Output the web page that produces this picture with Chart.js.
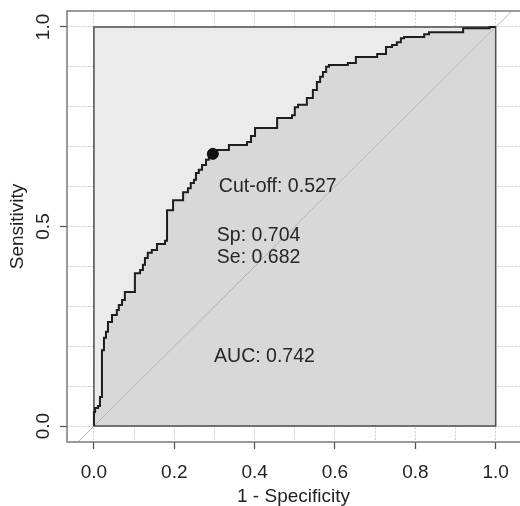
<!DOCTYPE html>
<html>
<head>
<meta charset="utf-8">
<script src="https://cdn.jsdelivr.net/npm/chart.js@4.4.1/dist/chart.umd.min.js"></script>
<style>
    html, body { margin: 0; padding: 0; background: #fff; overflow: hidden; }
    #rocChart { display: block; }
</style>
</head>
<body>
<canvas id="rocChart" width="520" height="506"></canvas>
<script>
// data
const rocFpr = [0, 0, 0.003, 0.003, 0.010, 0.010, 0.015, 0.015, 0.020, 0.020, 0.025, 0.025, 0.030, 0.030, 0.035, 0.035,
    0.045, 0.045, 0.057, 0.057, 0.062, 0.062, 0.070, 0.070, 0.077, 0.077, 0.102, 0.102, 0.115, 0.115, 0.122, 0.122,
    0.127, 0.127, 0.134, 0.134, 0.144, 0.144, 0.157, 0.157, 0.177, 0.177, 0.182, 0.182, 0.197, 0.197, 0.222, 0.222,
    0.234, 0.234, 0.241, 0.241, 0.249, 0.249, 0.254, 0.254, 0.261, 0.261, 0.269, 0.269, 0.279, 0.279, 0.286, 0.286,
    0.291, 0.291, 0.306, 0.306, 0.336, 0.336, 0.381, 0.381, 0.391, 0.391, 0.401, 0.401, 0.456, 0.456, 0.493, 0.493,
    0.500, 0.500, 0.508, 0.508, 0.530, 0.530, 0.545, 0.545, 0.555, 0.555, 0.563, 0.563, 0.570, 0.570, 0.578, 0.578,
    0.585, 0.585, 0.632, 0.632, 0.652, 0.652, 0.705, 0.705, 0.727, 0.727, 0.742, 0.742, 0.754, 0.754, 0.764, 0.764,
    0.772, 0.772, 0.822, 0.822, 0.834, 0.834, 0.919, 0.919, 0.985, 0.985, 1.000]
const rocTpr = [0, 0.035, 0.035, 0.045, 0.045, 0.050, 0.050, 0.073, 0.073, 0.190, 0.190, 0.221, 0.221, 0.236, 0.236, 0.261,
    0.261, 0.278, 0.278, 0.291, 0.291, 0.303, 0.303, 0.316, 0.316, 0.336, 0.336, 0.383, 0.383, 0.391, 0.391, 0.404,
    0.404, 0.421, 0.421, 0.434, 0.434, 0.441, 0.441, 0.456, 0.456, 0.464, 0.464, 0.541, 0.541, 0.566, 0.566, 0.586,
    0.586, 0.596, 0.596, 0.609, 0.609, 0.617, 0.617, 0.634, 0.634, 0.642, 0.642, 0.654, 0.654, 0.667, 0.667, 0.674,
    0.674, 0.682, 0.682, 0.692, 0.692, 0.704, 0.704, 0.712, 0.712, 0.727, 0.727, 0.747, 0.747, 0.772, 0.772, 0.779,
    0.779, 0.799, 0.799, 0.805, 0.805, 0.822, 0.822, 0.842, 0.842, 0.862, 0.862, 0.875, 0.875, 0.887, 0.887, 0.900,
    0.900, 0.905, 0.905, 0.910, 0.910, 0.925, 0.925, 0.932, 0.932, 0.950, 0.950, 0.955, 0.955, 0.962, 0.962, 0.972,
    0.972, 0.975, 0.975, 0.982, 0.982, 0.987, 0.987, 0.997, 0.997, 1.000, 1.000]

// best threshold point
const cutFpr = [0.296]
const cutTpr = [0.682]

// unit square (0..1 x 0..1) the curve lives in
const squareX = [0, 0, 1, 1, 0]
const squareY = [0, 1, 1, 0, 0]

// axes (right end of x is where the picture is cut off)
const xLimits = [-0.067, 1.0605]
const yLimits = [-0.04, 1.04]
const gridVals = [0, 0.1, 0.2, 0.3, 0.4, 0.5, 0.6, 0.7, 0.8, 0.9, 1.0]
const xTickVals = [0, 0.2, 0.4, 0.6, 0.8, 1.0]
const xTickLabels = ['0.0', '0.2', '0.4', '0.6', '0.8', '1.0']
const yTickVals = [0, 0.5, 1.0]
const yTickLabels = ['0.0', '0.5', '1.0']

// printed stats
const statTexts = ['Cut-off: 0.527', 'Sp: 0.704', 'Se: 0.682', 'AUC: 0.742']
const statX = [0.311, 0.306, 0.306, 0.299]
const statY = [0.587, 0.464, 0.409, 0.160]

const FONT = '"Liberation Sans", Arial, Helvetica, sans-serif'

const toPoints = (xs, ys) => xs.map((x, i) => ({ x: x, y: ys[i] }))
const labelFor = (vals, labels, v) => {
    const i = vals.findIndex(t => Math.abs(t - v) < 1e-9)
    return i < 0 ? '' : labels[i]
}

// frame round the plot region (R box); its right side lies past the picture edge
const boxPlugin = {
    id: 'boxPlugin',
    afterDraw(chart) {
        const { ctx, chartArea } = chart
        ctx.save()
        ctx.strokeStyle = '#7a7a7a'
        ctx.lineWidth = 1.5
        ctx.beginPath()
        ctx.moveTo(chartArea.right + 5, chartArea.top)
        ctx.lineTo(chartArea.left, chartArea.top)
        ctx.lineTo(chartArea.left, chartArea.bottom)
        ctx.lineTo(chartArea.right + 5, chartArea.bottom)
        ctx.stroke()
        ctx.restore()
    }
}

// Cut-off / Sp / Se / AUC text
const statsPlugin = {
    id: 'statsPlugin',
    afterDatasetsDraw(chart) {
        const { ctx, scales } = chart
        ctx.save()
        ctx.font = '19.5px ' + FONT
        ctx.fillStyle = '#262626'
        ctx.textAlign = 'left'
        ctx.textBaseline = 'alphabetic'
        statTexts.forEach((t, i) => {
            ctx.fillText(t, scales.x.getPixelForValue(statX[i]), scales.y.getPixelForValue(statY[i]))
        })
        ctx.restore()
    }
}

// setup
const data = {
    datasets: [
        {
            // light fill of the unit square (top edge filled down to 0)
            label: 'square fill',
            data: toPoints(squareX.slice(1, 3), squareY.slice(1, 3)),
            fill: 'origin',
            backgroundColor: '#ebebeb',
            borderWidth: 0,
            pointRadius: 0,
            order: 7
        },
        {
            label: 'square',
            data: toPoints(squareX, squareY),
            fill: false,
            borderColor: '#4d4d4d',
            borderWidth: 1.5,
            pointRadius: 0,
            order: 5
        },
        {
            label: 'diagonal',
            data: [{ x: yLimits[0], y: yLimits[0] }, { x: yLimits[1], y: yLimits[1] }],
            fill: false,
            borderColor: '#b5b5b5',
            borderWidth: 1,
            pointRadius: 0,
            order: 6
        },
        {
            label: 'ROC',
            data: toPoints(rocFpr, rocTpr),
            fill: 'origin',
            backgroundColor: '#d8d8d8',
            borderColor: '#1e1e1e',
            borderWidth: 2,
            pointRadius: 0,
            order: 2
        },
        {
            label: 'cut-off',
            data: toPoints(cutFpr, cutTpr),
            showLine: false,
            pointRadius: 5.5,
            pointBackgroundColor: '#111',
            pointBorderColor: '#111',
            order: 1
        }
    ]
}

// config
const config = {
    type: 'line',
    data: data,
    options: {
        responsive: false,
        animation: false,
        layout: { autoPadding: false, padding: { top: 11, right: 0, left: 0, bottom: 0 } },
        plugins: {
            legend: { display: false },
            tooltip: { enabled: false },
            filler: { drawTime: 'beforeDatasetsDraw' }
        },
        scales: {
            x: {
                type: 'linear',
                min: xLimits[0],
                max: xLimits[1],
                afterBuildTicks: s => { s.ticks = gridVals.map(v => ({ value: v })) },
                afterFit: s => { s.height = 64; s.paddingLeft = 0; s.paddingRight = 0 },
                ticks: {
                    autoSkip: false,
                    maxRotation: 0,
                    padding: 12,
                    color: '#222',
                    font: { size: 19, family: FONT },
                    callback: v => labelFor(xTickVals, xTickLabels, v)
                },
                grid: {
                    color: '#cdcdcd',
                    lineWidth: 1,
                    tickLength: 7,
                    tickWidth: 1.3,
                    tickColor: c => labelFor(xTickVals, xTickLabels, c.tick.value) ? '#555' : 'rgba(0,0,0,0)'
                },
                border: { display: false, dash: [2, 1.5] },
                title: {
                    display: true,
                    text: '1 - Specificity',
                    color: '#222',
                    font: { size: 19, family: FONT },
                    padding: { top: 0, bottom: -2 }
                }
            },
            y: {
                type: 'linear',
                min: yLimits[0],
                max: yLimits[1],
                afterBuildTicks: s => { s.ticks = gridVals.map(v => ({ value: v })) },
                afterFit: s => { s.width = 67; s.paddingTop = 0; s.paddingBottom = 0 },
                ticks: {
                    autoSkip: false,
                    minRotation: 90,
                    maxRotation: 90,
                    crossAlign: 'center',
                    padding: 3.3,
                    color: '#222',
                    font: { size: 19, family: FONT },
                    callback: v => labelFor(yTickVals, yTickLabels, v)
                },
                grid: {
                    color: '#cdcdcd',
                    lineWidth: 1,
                    tickLength: 7,
                    tickWidth: 1.3,
                    tickColor: c => labelFor(yTickVals, yTickLabels, c.tick.value) ? '#555' : 'rgba(0,0,0,0)'
                },
                border: { display: false, dash: [2, 1.5] },
                title: {
                    display: true,
                    text: 'Sensitivity',
                    color: '#222',
                    font: { size: 19, family: FONT },
                    padding: { top: 6, bottom: 0 }
                }
            }
        }
    },
    plugins: [boxPlugin, statsPlugin]
}

// render
const rocChart = new Chart(document.getElementById('rocChart'), config)
</script>
</body>
</html>
